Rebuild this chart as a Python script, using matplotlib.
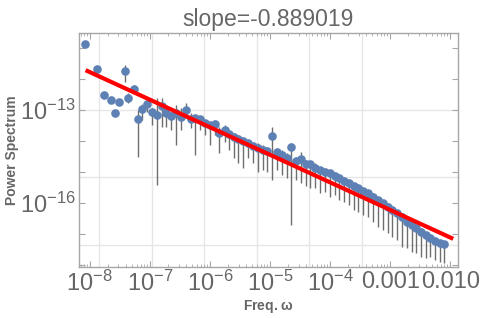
import numpy as np
import matplotlib
matplotlib.use("Agg")
import matplotlib.pyplot as plt
from matplotlib.ticker import FixedLocator, FixedFormatter, NullFormatter

plt.rcParams['font.family'] = ['Liberation Sans', 'DejaVu Sans']
plt.rcParams['mathtext.fontset'] = 'custom'
plt.rcParams['mathtext.rm'] = 'Liberation Sans'
plt.rcParams['mathtext.it'] = 'Liberation Sans:italic:bold'
plt.rcParams['mathtext.default'] = 'regular'

# значения (log10)
log_freq = [-8.072, -7.878, -7.762, -7.655, -7.583, -7.512, -7.422, -7.362, -7.272, -7.195,
            -7.128, -7.045, -6.967, -6.883, -6.800, -6.725, -6.650, -6.567, -6.488, -6.400,
            -6.317, -6.250, -6.167, -6.083, -6.000, -5.917, -5.850, -5.750, -5.678, -5.600,
            -5.528, -5.445, -5.362, -5.278, -5.195, -5.122, -5.045, -4.962, -4.888, -4.805,
            -4.722, -4.650, -4.567, -4.488, -4.405, -4.333, -4.250, -4.167, -4.083, -4.000,
            -3.917, -3.845, -3.762, -3.683, -3.600, -3.528, -3.445, -3.362, -3.288, -3.205,
            -3.122, -3.038, -2.962, -2.888, -2.805, -2.722, -2.638, -2.567, -2.488, -2.405,
            -2.333, -2.250, -2.178, -2.100]
log_power = [-10.881, -11.677, -12.516, -12.687, -13.106, -12.742, -11.742, -12.613, -12.313, -13.281,
             -12.977, -12.806, -13.065, -13.161, -12.871, -13.081, -13.194, -13.106, -13.216, -13.000,
             -13.281, -13.268, -13.300, -13.410, -13.484, -13.461, -13.732, -13.645, -13.784, -13.861,
             -13.945, -14.000, -14.074, -14.152, -14.235, -14.290, -14.323, -13.839, -14.345, -14.452,
             -14.539, -14.203, -14.655, -14.581, -14.752, -14.752, -14.861, -14.935, -14.990, -15.042,
             -15.129, -15.203, -15.281, -15.365, -15.452, -15.526, -15.603, -15.687, -15.797, -15.903,
             -16.010, -16.119, -16.226, -16.332, -16.461, -16.603, -16.710, -16.816, -16.926, -17.032,
             -17.139, -17.226, -17.300, -17.332]
# концы планок погрешностей (log10)
log_err_hi = [-10.881, -11.677, -12.516, -12.687, -13.106, -12.742, -11.548, -12.452, -12.194, -13.000,
              -12.806, -12.581, -12.935, -12.613, -12.613, -12.935, -13.065, -12.839, -12.935, -12.774,
              -13.097, -13.161, -13.258, -13.323, -13.387, -13.323, -13.548, -13.484, -13.645, -13.742,
              -13.806, -13.871, -13.968, -14.032, -14.065, -14.129, -14.194, -13.548, -14.226, -14.290,
              -14.387, -14.065, -14.516, -14.355, -14.613, -14.677, -14.710, -14.839, -14.871, -14.935,
              -15.000, -15.097, -15.161, -15.258, -15.355, -15.419, -15.484, -15.581, -15.677, -15.806,
              -15.903, -16.000, -16.129, -16.226, -16.323, -16.484, -16.613, -16.710, -16.806, -16.935,
              -17.032, -17.097, -17.194, -17.258]
log_err_lo = [-10.881, -11.677, -12.516, -12.687, -13.106, -12.742, -12.097, -12.774, -12.452, -14.516,
              -13.323, -13.065, -13.484, -15.419, -13.548, -13.548, -13.645, -14.129, -13.645, -13.258,
              -13.581, -14.452, -13.645, -13.806, -14.129, -13.806, -14.387, -14.032, -14.290, -14.548,
              -14.710, -14.871, -14.548, -14.710, -15.000, -14.935, -15.000, -15.258, -14.935, -15.097,
              -15.194, -16.710, -15.258, -15.355, -15.452, -15.516, -15.516, -15.677, -15.645, -15.806,
              -15.742, -15.903, -15.968, -16.065, -16.226, -16.290, -16.387, -16.452, -16.613, -16.774,
              -16.871, -16.968, -17.097, -17.194, -17.419, -17.452, -17.581, -17.613, -17.742, -17.774,
              -17.742, -17.839, -17.903, -17.935]

slope = -0.889019
intercept = -18.89
fit_range = [-8.07, -1.95]

grid_x = [-7.85, -6.967, -6.10, -5.217, -4.35, -3.467]
grid_y = [-13.0, -15.161, -17.355]

freq = 10 ** np.array(log_freq)
power = 10 ** np.array(log_power)
hi = 10 ** np.array(log_err_hi)
lo = 10 ** np.array(log_err_lo)

gray = '#a6a6a6'
txt = '#666666'

fig = plt.figure(figsize=(4.91, 3.18), dpi=100)
ax = fig.add_axes([0.1609, 0.1604, 0.7719, 0.7358])
ax.set_xscale('log')
ax.set_yscale('log')
ax.set_xlim(10 ** -8.18, 10 ** -1.87)
ax.set_ylim(10 ** -18.065, 10 ** -10.516)

for gx in grid_x:
    ax.axvline(10 ** gx, color='#e6e6e6', lw=1, zorder=0)
for gy in grid_y:
    ax.axhline(10 ** gy, color='#e6e6e6', lw=1, zorder=0)

ax.vlines(freq, lo, hi, color='#555555', lw=1, alpha=0.85, zorder=2)
ax.plot(freq, power, 'o', color='#5e81b5', ms=6.2, mec='none', zorder=3)

fx = 10 ** np.array(fit_range)
fy = 10 ** (intercept + slope * np.array(fit_range))
ax.plot(fx, fy, color='red', lw=3, zorder=4, solid_capstyle='butt')

xt = [1e-8, 1e-7, 1e-6, 1e-5, 1e-4, 1e-3, 1e-2]
xl = [r'$10^{-8}$', r'$10^{-7}$', r'$10^{-6}$', r'$10^{-5}$', r'$10^{-4}$', '0.001', '0.010']
ax.xaxis.set_major_locator(FixedLocator(xt))
ax.xaxis.set_major_formatter(FixedFormatter(xl))
minor = [m * 10.0 ** e for e in range(-9, -1) for m in range(2, 10)]
ax.xaxis.set_minor_locator(FixedLocator(minor))
ax.xaxis.set_minor_formatter(NullFormatter())

yt = [10.0 ** e for e in range(-18, -10)]
yl = ['$10^{%d}$' % e if e in (-13, -16) else '' for e in range(-18, -10)]
ax.yaxis.set_major_locator(FixedLocator(yt))
ax.yaxis.set_major_formatter(FixedFormatter(yl))
ax.yaxis.set_minor_locator(FixedLocator([]))

ax.tick_params(which='both', direction='in', top=True, right=True, color=gray,
               labelcolor=txt, labelsize=17)
ax.tick_params(which='major', length=4, width=0.8)
ax.tick_params(which='minor', length=2, width=0.6)
ax.tick_params(axis='x', pad=3)
ax.tick_params(axis='y', pad=2)
for s in ax.spines.values():
    s.set_color(gray)
    s.set_linewidth(1)

ax.set_title('slope=-0.889019', color=txt, fontsize=16.5, pad=5)
ax.set_xlabel(r'Freq. $\omega$', color=txt, fontsize=10, fontweight='bold', labelpad=1)
ax.set_ylabel('Power Spectrum', color=txt, fontsize=10, fontweight='bold', labelpad=1)

fig.savefig('out.png', dpi=100)
